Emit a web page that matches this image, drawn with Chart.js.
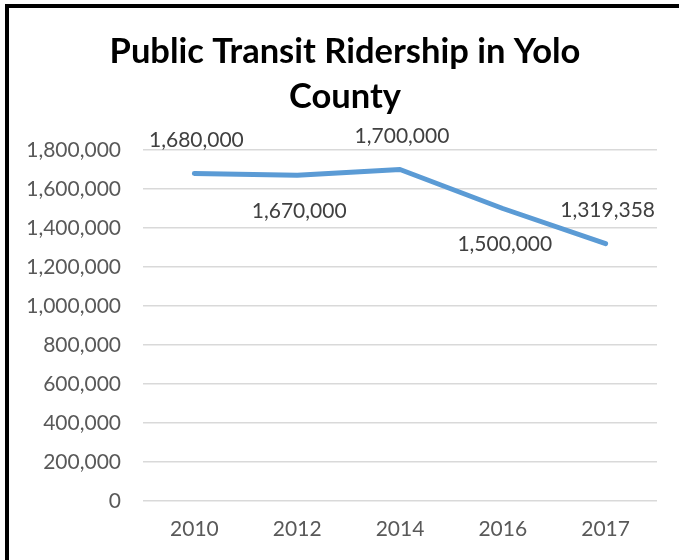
<!DOCTYPE html>
<html lang="en">
<head>
    <meta charset="UTF-8" />
    <title>Public Transit Ridership in Yolo County</title>
    <script src="https://cdn.jsdelivr.net/npm/chart.js@4.4.0/dist/chart.umd.min.js"></script>
    <style>
        html, body { margin: 0; padding: 0; background: #fff; }
        .chart-wrap { position: relative; width: 679px; height: 560px; }
    </style>
</head>
<body>
    <div class="chart-wrap">
        <canvas id="ridershipChart"></canvas>
    </div>

    <script>
        // Datos del gráfico
        const years = ['2010', '2012', '2014', '2016', '2017'];
        const riders = [1680000, 1670000, 1700000, 1500000, 1319358];
        const titleLines = ['Public Transit Ridership in Yolo', 'County'];

        // Posición de cada etiqueta respecto al punto
        const labelSide = ['above', 'below', 'above', 'below', 'above'];

        const fmt = v => Number(v).toLocaleString('en-US');

        const pointLabels = {
            id: 'pointLabels',
            afterDatasetsDraw(chart) {
                const ctx = chart.ctx;
                const meta = chart.getDatasetMeta(0);
                ctx.save();
                ctx.font = '21px Lato';
                ctx.fillStyle = '#404040';
                ctx.textAlign = 'center';
                ctx.textBaseline = 'middle';
                meta.data.forEach((pt, i) => {
                    const dy = labelSide[i] === 'above' ? -33 : 36;
                    ctx.fillText(fmt(riders[i]), pt.x + 2, pt.y + dy);
                });
                ctx.restore();
            }
        };

        // Título centrado sobre la zona del gráfico, y marco negro
        const titleAndFrame = {
            id: 'titleAndFrame',
            afterDraw(chart) {
                const ctx = chart.ctx;
                ctx.save();
                ctx.font = 'bold 34.5px Lato';
                ctx.fillStyle = '#000';
                ctx.textAlign = 'center';
                ctx.textBaseline = 'middle';
                titleLines.forEach((line, i) => ctx.fillText(line, 345, 52 + i * 45));
                ctx.fillRect(5, 4, 4, chart.height - 4);
                ctx.fillRect(5, 4, chart.width - 5, 4);
                ctx.restore();
            }
        };

        new Chart(document.getElementById('ridershipChart'), {
            type: 'line',
            data: {
                labels: years,
                datasets: [{
                    data: riders,
                    borderColor: '#5b9bd5',
                    borderWidth: 5,
                    borderCapStyle: 'round',
                    borderJoinStyle: 'round',
                    pointRadius: 0,
                    tension: 0,
                    fill: false
                }]
            },
            options: {
                responsive: true,
                maintainAspectRatio: false,
                animation: false,
                layout: { padding: { left: 0, right: 22, top: 150, bottom: 0 } },
                plugins: {
                    legend: { display: false },
                    tooltip: { enabled: false },
                    title: { display: false }
                },
                scales: {
                    x: {
                        offset: true,
                        grid: { display: false, drawTicks: false },
                        border: { display: false },
                        afterFit: s => { s.height = 59; },
                        ticks: {
                            color: '#595959',
                            font: { family: 'Lato', size: 21 },
                            padding: 16
                        }
                    },
                    y: {
                        min: 0,
                        max: 1800000,
                        grid: { color: '#d9d9d9', lineWidth: 1.5, drawTicks: false },
                        border: { display: false },
                        afterFit: s => { s.width = 143; },
                        ticks: {
                            stepSize: 200000,
                            color: '#595959',
                            font: { family: 'Lato', size: 21 },
                            padding: 22,
                            callback: v => fmt(v)
                        }
                    }
                }
            },
            plugins: [pointLabels, titleAndFrame]
        });
    </script>
</body>
</html>
